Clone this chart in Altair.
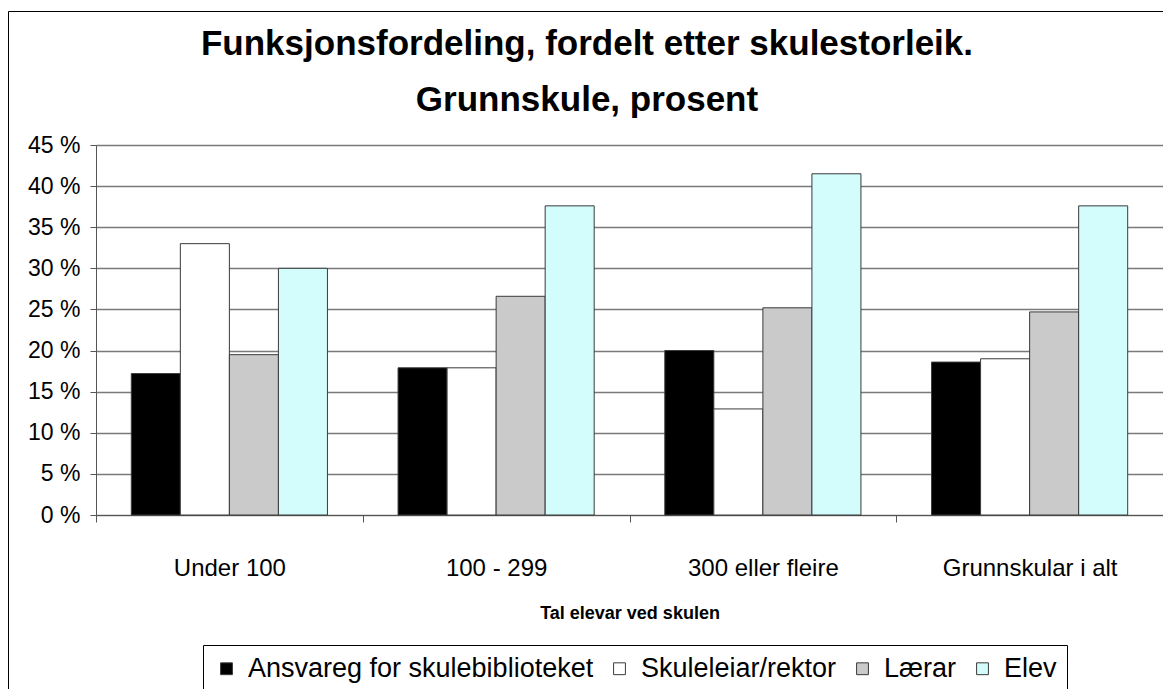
import altair as alt
import pandas as pd

categories = ["Under 100", "100 - 299", "300 eller fleire", "Grunnskular i alt"]
series = ["Ansvareg for skulebiblioteket", "Skuleleiar/rektor", "Lærar", "Elev"]
ansvareg = [17.2, 17.9, 20.0, 18.6]
skuleleiar = [33.0, 17.9, 12.9, 19.0]
laerar = [19.5, 26.6, 25.2, 24.7]
elev = [30.0, 37.6, 41.5, 37.6]
colors = ["#000000", "#FFFFFF", "#CACACA", "#D3FCFC"]
y_ticks = [0, 5, 10, 15, 20, 25, 30, 35, 40, 45]
title_lines = ["Funksjonsfordeling, fordelt etter skulestorleik.", "Grunnskule, prosent"]

rows = []
for s, vals in zip(series, [ansvareg, skuleleiar, laerar, elev]):
    for c, v in zip(categories, vals):
        rows.append({"kategori": c, "serie": s, "prosent": v})
df = pd.DataFrame(rows)

FONT = "Liberation Sans"
W, H = 1067, 370

bars = alt.Chart(df).mark_bar(stroke="#3a3a3a", strokeWidth=1).encode(
    x=alt.X("kategori:N", sort=categories,
            scale=alt.Scale(paddingInner=0, paddingOuter=0),
            axis=alt.Axis(title="Tal elevar ved skulen", labelAngle=0,
                          tickBand="extent", tickSize=7, labelFontSize=24,
                          labelPadding=34, titleFontSize=18, titleFontWeight="bold",
                          titlePadding=24, labelColor="black", titleColor="black",
                          domainColor="#555555", tickColor="#555555")),
    xOffset=alt.XOffset("serie:N", sort=series,
                        scale=alt.Scale(paddingInner=0, paddingOuter=0.72)),
    y=alt.Y("prosent:Q", scale=alt.Scale(domain=[0, 45], nice=False),
            axis=alt.Axis(title=None, values=y_ticks, labelExpr="datum.value + ' %'",
                          labelFontSize=23, labelPadding=10, tickSize=6,
                          gridColor="#7a7a7a", gridWidth=1.4, labelColor="black",
                          domainColor="#555555", tickColor="#555555")),
    fill=alt.Fill("serie:N", sort=series,
                  scale=alt.Scale(domain=series, range=colors),
                  legend=alt.Legend(title=None, orient="none", legendX=107, legendY=500,
                                    direction="horizontal", strokeColor="#000000",
                                    padding=10, symbolType="square", symbolSize=140,
                                    symbolStrokeColor="#3a3a3a", symbolStrokeWidth=1,
                                    labelFontSize=27, labelColor="black", labelLimit=0,
                                    columnPadding=12, labelOffset=8)),
)

frame = alt.Chart(alt.Data(values=[{"f": 1}])).mark_rect(
    fillOpacity=0, stroke="#000000", strokeWidth=1
).encode(x=alt.value(-87.5), x2=alt.value(1200), y=alt.value(-133.5), y2=alt.value(700))

title1 = alt.Chart(alt.Data(values=[{"t": title_lines[0]}])).mark_text(
    fontSize=35, fontWeight="bold", color="black", align="center", baseline="middle"
).encode(text="t:N", x=alt.value(491), y=alt.value(-101))
title2 = alt.Chart(alt.Data(values=[{"t": title_lines[1]}])).mark_text(
    fontSize=35, fontWeight="bold", color="black", align="center", baseline="middle"
).encode(text="t:N", x=alt.value(491), y=alt.value(-45))

chart = alt.layer(frame, bars, title1, title2).properties(
    width=W, height=H,
    padding={"left": 88, "top": 137, "right": 0, "bottom": 174},
    autosize=alt.AutoSizeParams(type="none"),
).configure(font=FONT).configure_view(strokeWidth=0)

chart.save("out.html", embed_options={"renderer": "svg", "actions": False})
